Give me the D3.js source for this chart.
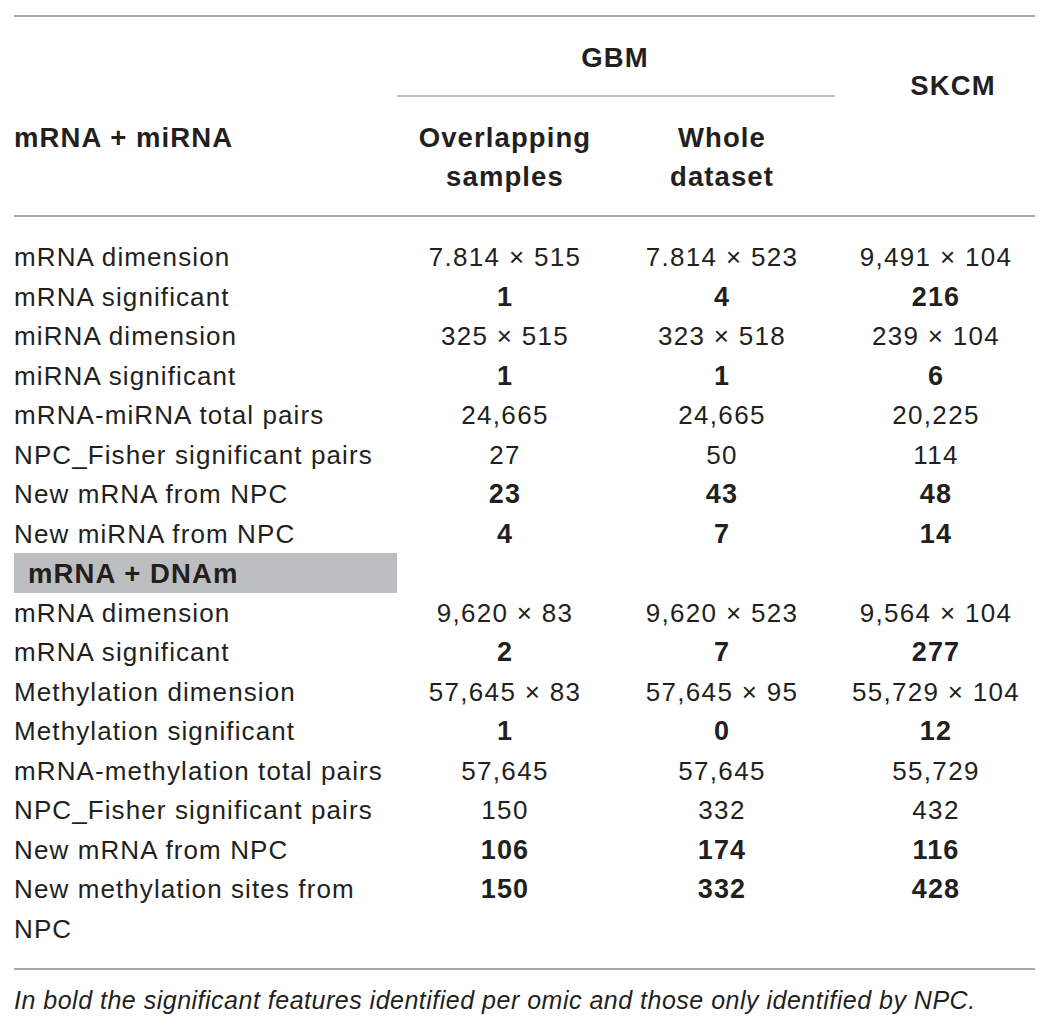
<!DOCTYPE html>
<html><head><meta charset="utf-8">
<script src="https://cdn.jsdelivr.net/npm/d3@7"></script>
<style>
html,body{margin:0;padding:0;background:#fff;}
svg text{font-family:"Liberation Sans",Arial,Helvetica,sans-serif;fill:#231f20;}
</style></head>
<body>
<svg id="t" width="1053" height="1031"></svg>
<script>
// ---- data ----
const columns = ["Overlapping samples", "Whole dataset", "SKCM"];
const groupHeader = "GBM";
const section1Title = "mRNA + miRNA";
const section1Labels = ["mRNA dimension","mRNA significant","miRNA dimension","miRNA significant","mRNA-miRNA total pairs","NPC_Fisher significant pairs","New mRNA from NPC","New miRNA from NPC"];
const section1Overlap = ["7.814 × 515","1","325 × 515","1","24,665","27","23","4"];
const section1Whole   = ["7.814 × 523","4","323 × 518","1","24,665","50","43","7"];
const section1Skcm    = ["9,491 × 104","216","239 × 104","6","20,225","114","48","14"];
const section1Bold    = [false,true,false,true,false,false,true,true];
const section2Title = "mRNA + DNAm";
const section2Labels = ["mRNA dimension","mRNA significant","Methylation dimension","Methylation significant","mRNA-methylation total pairs","NPC_Fisher significant pairs","New mRNA from NPC","New methylation sites from\nNPC"];
const section2Overlap = ["9,620 × 83","2","57,645 × 83","1","57,645","150","106","150"];
const section2Whole   = ["9,620 × 523","7","57,645 × 95","0","57,645","332","174","332"];
const section2Skcm    = ["9,564 × 104","277","55,729 × 104","12","55,729","432","116","428"];
const section2Bold    = [false,true,false,true,false,false,true,true];
const footnote = "In bold the significant features identified per omic and those only identified by NPC.";

// ---- layout ----
const svg = d3.select("#t");
const left = 14, right = 1035;
const fs = 26;
const x = d3.scaleOrdinal().domain(columns).range([505, 722, 936]);
const y = d3.scaleLinear().domain([0, 17]).range([257, 928.5]);
const lineColor = "#a7a9ac";

function hline(x1, x2, yy, w){
  svg.append("line").attr("x1",x1).attr("x2",x2).attr("y1",yy).attr("y2",yy)
    .attr("stroke",lineColor).attr("stroke-width",w||1.8);
}
function txt(s, xx, yy, opts){
  opts = opts||{};
  return svg.append("text").attr("x",xx).attr("y",yy).attr("dy","0.35em")
    .attr("text-anchor",opts.anchor||"start")
    .attr("font-size",opts.size||fs)
    .attr("font-weight",opts.bold?"bold":"normal")
    .attr("font-style",opts.italic?"italic":"normal")
    .attr("letter-spacing",opts.ls!=null?opts.ls:1.1)
    .text(s);
}
const H = {bold:true, size:27.5, ls:1.1};

hline(left, right, 16);
txt(groupHeader, 615, 57, Object.assign({anchor:"middle"}, H));
hline(397, 835, 96, 1.6);
txt(columns[2], 953, 85, Object.assign({anchor:"middle"}, H));
txt(section1Title, left, 137, H);
["Overlapping","samples"].forEach((s,i)=>txt(s, x(columns[0]), 137+i*39, Object.assign({anchor:"middle"}, H)));
["Whole","dataset"].forEach((s,i)=>txt(s, x(columns[1]), 137+i*39, Object.assign({anchor:"middle"}, H)));
hline(left, right, 216);

function drawSection(labels, c1, c2, c3, bold, start){
  labels.forEach((lab, i) => {
    const parts = lab.split("\n");
    parts.forEach((p, j) => txt(p, left, y(start + i + j)));
    [c1, c2, c3].forEach((col, k) => {
      txt(col[i], x(columns[k]), y(start + i), bold[i] ? {anchor:"middle", bold:true, size:27, ls:1.2} : {anchor:"middle", ls:1.3});
    });
  });
}
drawSection(section1Labels, section1Overlap, section1Whole, section1Skcm, section1Bold, 0);

// gray section band
svg.append("rect").attr("x",left).attr("y",y(8)-20).attr("width",397-left).attr("height",40).attr("fill","#bcbec0");
txt(section2Title, left+14, y(8), H);

drawSection(section2Labels, section2Overlap, section2Whole, section2Skcm, section2Bold, 9);

hline(left, right, 969);
txt(footnote, left, 1000, {italic:true, size:25, ls:0.5});
</script>
</body></html>
